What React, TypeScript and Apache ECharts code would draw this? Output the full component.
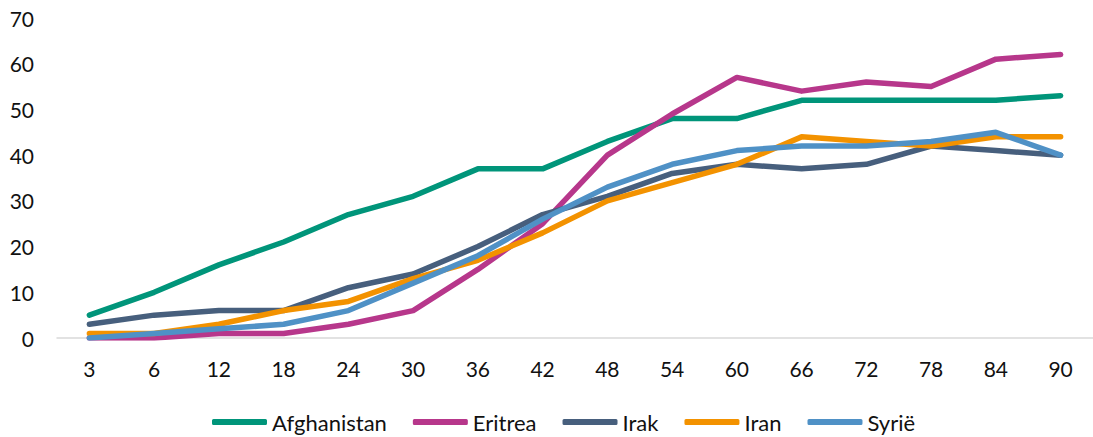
import React, { useEffect, useRef } from "react";
import * as echarts from "echarts";

const categories = ["3", "6", "12", "18", "24", "30", "36", "42", "48", "54", "60", "66", "72", "78", "84", "90"];
const afghanistan = [5, 10, 16, 21, 27, 31, 37, 37, 43, 48, 48, 52, 52, 52, 52, 53];
const eritrea = [0, 0, 1, 1, 3, 6, 15, 25, 40, 49, 57, 54, 56, 55, 61, 62];
const irak = [3, 5, 6, 6, 11, 14, 20, 27, 31, 36, 38, 37, 38, 42, 41, 40];
const iran = [1, 1, 3, 6, 8, 13, 17, 23, 30, 34, 38, 44, 43, 42, 44, 44];
const syrie = [0, 1, 2, 3, 6, 12, 18, 26, 33, 38, 41, 42, 42, 43, 45, 40];
const seriesNames = ["Afghanistan", "Eritrea", "Irak", "Iran", "Syrië"];
const colors = ["#00957A", "#B7378B", "#475F7D", "#F39200", "#4F91C6"];

export default function App() {
  const ref = useRef<HTMLDivElement>(null);
  useEffect(() => {
    if (!ref.current) return;
    const chart = echarts.init(ref.current, null, { renderer: "svg" });
    const font = "Lato, 'Open Sans', sans-serif";
    const data = [afghanistan, eritrea, irak, iran, syrie];
    chart.setOption({
      animation: false,
      color: colors,
      textStyle: { fontFamily: font },
      grid: { left: 57, top: 18, width: 1040, height: 320, containLabel: false },
      legend: {
        left: 207,
        top: 406,
        icon: "roundRect",
        itemWidth: 55,
        itemHeight: 6,
        itemGap: 26,
        textStyle: { fontFamily: font, fontSize: 22, color: "#111" },
        data: seriesNames,
      },
      xAxis: {
        type: "category",
        data: categories,
        boundaryGap: true,
        axisLine: { lineStyle: { color: "#d9d9d9", width: 1.5 } },
        axisTick: { show: false },
        axisLabel: { fontFamily: font, fontSize: 21, color: "#111", margin: 20 },
      },
      yAxis: {
        type: "value",
        min: 0,
        max: 70,
        interval: 10,
        axisLine: { show: false },
        axisTick: { show: false },
        splitLine: { show: false },
        axisLabel: { fontFamily: font, fontSize: 21, color: "#111", margin: 23 },
      },
      series: seriesNames.map((name, i) => ({
        name,
        type: "line",
        data: data[i],
        symbol: "none",
        lineStyle: { width: 5.5, color: colors[i], cap: "round", join: "round" },
        itemStyle: { color: colors[i] },
      })),
    });
    return () => chart.dispose();
  }, []);
  return (
    <div
      ref={ref}
      style={{ position: "absolute", left: 0, top: 0, width: 1093, height: 437 }}
    />
  );
}
